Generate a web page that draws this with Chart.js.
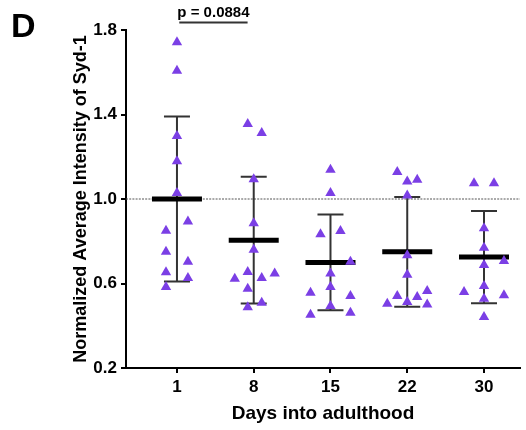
<!DOCTYPE html>
<html>
<head>
<meta charset="utf-8">
<script src="https://cdn.jsdelivr.net/npm/chart.js@4.4.0/dist/chart.umd.min.js"></script>
<style>
  html, body { margin: 0; padding: 0; background: #ffffff; }
  canvas { display: block; }
</style>
</head>
<body>
<canvas id="chart" width="526" height="430"></canvas>
<script>
// Days into adulthood (x categories)
const days = ['1', '8', '15', '22', '30'];

// Normalized average Syd-1 intensity, one value per animal
const syd1Day1  = [1.742, 1.607, 1.298, 1.179, 1.028, 0.893, 0.850, 0.750, 0.703, 0.653, 0.626, 0.583];
const syd1Day8  = [1.355, 1.312, 1.093, 0.885, 0.760, 0.623, 0.655, 0.626, 0.647, 0.575, 0.509, 0.488];
const syd1Day15 = [1.139, 1.028, 0.833, 0.849, 0.703, 0.647, 0.583, 0.556, 0.541, 0.493, 0.452, 0.461];
const syd1Day22 = [1.128, 1.083, 1.091, 1.017, 0.734, 0.642, 0.564, 0.541, 0.536, 0.504, 0.512, 0.501];
const syd1Day30 = [1.075, 1.075, 0.861, 0.769, 0.707, 0.687, 0.588, 0.560, 0.544, 0.528, 0.441];

// Horizontal scatter lane of each point (dot-plot spread)
const laneDay1  = [0, 0, 0, 0, 0, 1.1, -1.1, -1.1, 1.1, -1.1, 1.1, -1.1];
const laneDay8  = [-0.6, 0.8, 0, 0, 0, -1.9, -0.6, 0.8, 2.1, -0.6, 0.8, -0.6];
const laneDay15 = [0, 0, -1, 1, 2, 0, 0, -2, 2, 0, -2, 2];
const laneDay22 = [-1, 0, 1, 0, 0, 0, 2, -1, 1, -2, 0, 2];
const laneDay30 = [-1, 1, 0, 0, 2, 0, 0, -2, 2, 0, 0];

// Group mean and standard deviation
const meanValues = [1.00, 0.805, 0.70, 0.75, 0.725];
const sdValues   = [0.39, 0.30, 0.227, 0.26, 0.218];

// Day 1 vs day 8 comparison
const pValueText = 'p = 0.0884';

// y tick labels
const yTicks = [0.2, 0.6, 1.0, 1.4, 1.8];

const groups = [syd1Day1, syd1Day8, syd1Day15, syd1Day22, syd1Day30];
const lanes  = [laneDay1, laneDay8, laneDay15, laneDay22, laneDay30];

const LANE_WIDTH = 0.13;            // one lane in category units
const PURPLE = '#7B3FE5';
const FONT = '"Liberation Sans", Arial, Helvetica, sans-serif';

const datasets = groups.map((vals, gi) => ({
  label: 'Day ' + days[gi],
  data: vals.map((v, k) => ({ x: gi + lanes[gi][k] * LANE_WIDTH, y: v })),
  pointStyle: 'triangle',
  pointRadius: 6,
  pointHoverRadius: 6,
  backgroundColor: PURPLE,
  borderColor: PURPLE,
  borderWidth: 0,
  showLine: false
}));

// Mean bar, SD whiskers and the reference line at 1.0, drawn under the points
const meanSdPlugin = {
  id: 'meanSd',
  beforeDatasetsDraw(chart) {
    const { ctx, chartArea, scales: { x, y } } = chart;
    ctx.save();

    // dotted reference line at 1.0
    const yRef = y.getPixelForValue(1.0);
    ctx.beginPath();
    ctx.setLineDash([2, 1.2]);
    ctx.strokeStyle = '#555';
    ctx.lineWidth = 1;
    ctx.moveTo(chartArea.left, yRef);
    ctx.lineTo(chartArea.right, yRef);
    ctx.stroke();
    ctx.setLineDash([]);

    meanValues.forEach((m, i) => {
      const cx = x.getPixelForValue(i);
      const yTop = y.getPixelForValue(m + sdValues[i]);
      const yBot = y.getPixelForValue(m - sdValues[i]);
      const yMean = y.getPixelForValue(m);

      ctx.strokeStyle = '#333';
      ctx.lineWidth = 2;
      ctx.lineCap = 'butt';
      ctx.beginPath();
      ctx.moveTo(cx, yTop); ctx.lineTo(cx, yBot);
      ctx.moveTo(cx - 13, yTop); ctx.lineTo(cx + 13, yTop);
      ctx.moveTo(cx - 13, yBot); ctx.lineTo(cx + 13, yBot);
      ctx.stroke();

      ctx.strokeStyle = '#000';
      ctx.lineWidth = 5;
      ctx.beginPath();
      ctx.moveTo(cx - 25, yMean); ctx.lineTo(cx + 25, yMean);
      ctx.stroke();
    });
    ctx.restore();
  },
  afterDraw(chart) {
    const { ctx, scales: { x, y } } = chart;
    ctx.save();

    // significance bracket between day 1 and day 8
    const bx0 = x.getPixelForValue(0.03);
    const bx1 = x.getPixelForValue(0.92);
    const by = y.getPixelForValue(1.835);
    ctx.strokeStyle = '#333';
    ctx.lineWidth = 2;
    ctx.beginPath();
    ctx.moveTo(bx0, by); ctx.lineTo(bx1, by);
    ctx.stroke();

    ctx.fillStyle = '#000';
    ctx.font = 'bold 15px ' + FONT;
    ctx.textAlign = 'center';
    ctx.textBaseline = 'alphabetic';
    ctx.fillText(pValueText, (bx0 + bx1) / 2, by - 6);

    // panel letter
    ctx.font = 'bold 34px ' + FONT;
    ctx.textAlign = 'left';
    ctx.fillText('D', 11, 37);
    ctx.restore();
  }
};

new Chart(document.getElementById('chart'), {
  type: 'scatter',
  data: { datasets },
  plugins: [meanSdPlugin],
  options: {
    responsive: false,
    animation: false,
    devicePixelRatio: 1,
    layout: { padding: { top: 30, right: 6, bottom: 0, left: 0 } },
    plugins: {
      legend: { display: false },
      tooltip: { enabled: false }
    },
    scales: {
      x: {
        type: 'linear',
        min: -0.664,
        max: 4.469,
        afterFit(scale) { scale.height = 62; },
        afterBuildTicks(scale) { scale.ticks = days.map((d, i) => ({ value: i })); },
        grid: {
          display: true,
          drawOnChartArea: false,
          drawTicks: true,
          tickLength: 5,
          color: '#000',
          lineWidth: 2
        },
        border: { display: true, color: '#000', width: 2 },
        ticks: {
          padding: 4,
          color: '#000',
          font: { family: FONT, size: 17, weight: 'bold' },
          callback: (v) => days[Math.round(v)]
        },
        title: {
          display: true,
          text: 'Days into adulthood',
          color: '#000',
          font: { family: FONT, size: 19, weight: 'bold' },
          padding: { top: 0, bottom: 5 }
        }
      },
      y: {
        type: 'linear',
        min: 0.2,
        max: 1.8,
        afterFit(scale) { scale.width = 126; },
        afterBuildTicks(scale) { scale.ticks = yTicks.map(v => ({ value: v })); },
        grid: {
          display: true,
          drawOnChartArea: false,
          drawTicks: true,
          tickLength: 5,
          color: '#000',
          lineWidth: 2
        },
        border: { display: true, color: '#000', width: 2 },
        ticks: {
          padding: 4,
          color: '#000',
          font: { family: FONT, size: 17, weight: 'bold' },
          callback: (v) => v.toFixed(1)
        },
        title: {
          display: true,
          text: 'Normalized Average Intensity of Syd-1',
          color: '#000',
          font: { family: FONT, size: 18, weight: 'bold' },
          padding: { top: 70, bottom: 0 }
        }
      }
    }
  }
});
</script>
</body>
</html>
